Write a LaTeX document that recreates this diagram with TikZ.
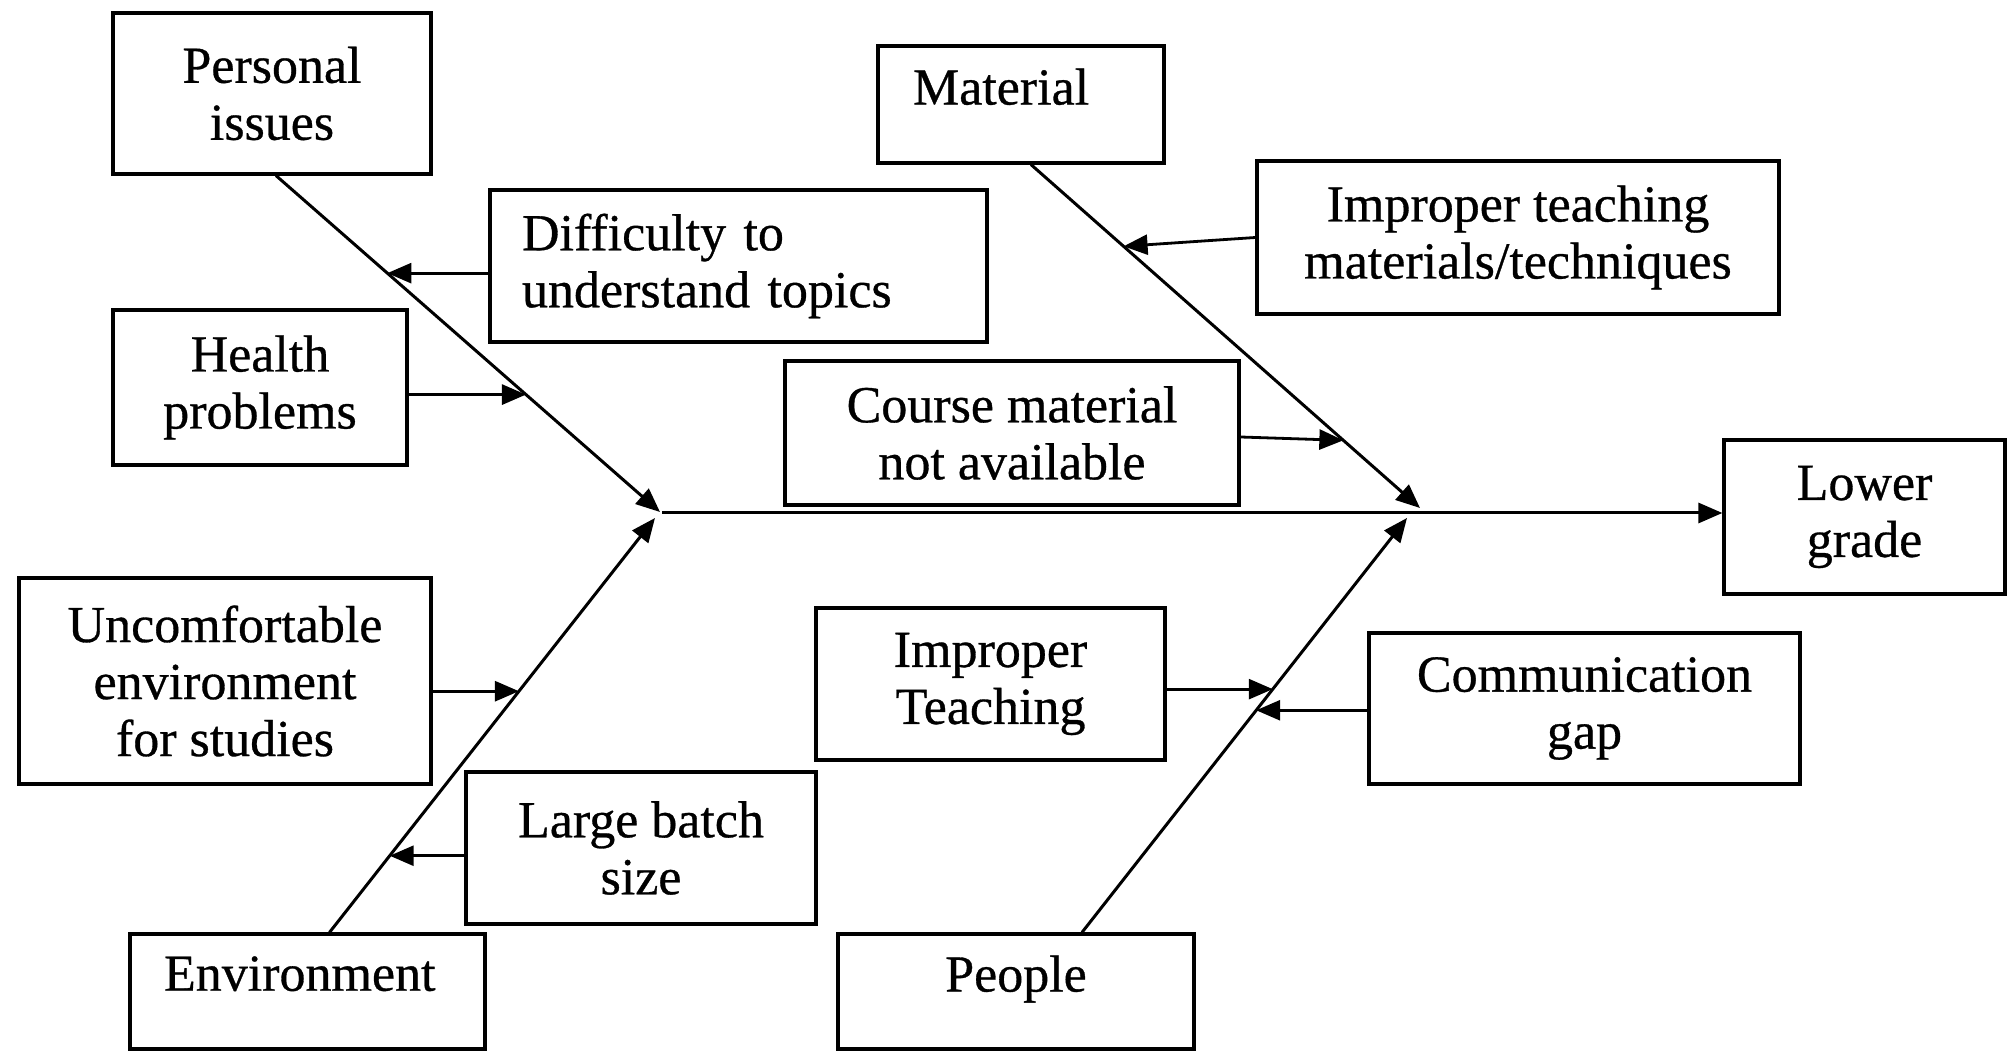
\documentclass[tikz,border=0pt]{standalone}
\usepackage{fontspec}
\setmainfont{Liberation Serif}[FakeBold=0.6]
\usetikzlibrary{arrows.meta,calc}
\begin{document}
\begin{tikzpicture}[x=0.5pt,y=-0.5pt,
  box/.style={draw, line width=1.6pt, inner sep=0pt, align=center,
              font=\fontsize{26}{28.5}\selectfont},
  oneline/.style={text depth=18pt},
  bone/.style={line width=1.5pt, -{Triangle[length=12pt,width=10pt]}},
  sub/.style={line width=1.4pt, -{Triangle[length=12pt,width=10pt]}}]
\useasboundingbox (0,0) rectangle (2010,1052);

% cause and effect boxes
\node[box, minimum width=159pt, minimum height=80.5pt] (per) at (272,93.5) {Personal\\issues};
\node[box, minimum width=248.5pt, minimum height=76pt, text width=216.5pt,
      inner xsep=16pt, align=left] (dif) at (738.5,266) {Difficulty to\\understand topics};
\node[box, minimum width=147pt, minimum height=77.5pt] (hea) at (260,387.5) {Health\\problems};
\node[box, oneline, minimum width=143pt, minimum height=58.5pt, text width=108pt,
      inner xsep=17.5pt, align=left] (mat) at (1021,104.5) {Material};
\node[box, minimum width=261pt, minimum height=76.5pt] (itm) at (1518,237.5) {Improper teaching\\materials/techniques};
\node[box, minimum width=227pt, minimum height=72pt] (cma) at (1012,433) {Course material\\not available};
\node[box, minimum width=140.5pt, minimum height=77pt] (low) at (1864.5,517) {Lower\\grade};
\node[box, minimum width=206pt, minimum height=103pt] (unc) at (225,681) {Uncomfortable\\environment\\for studies};
\node[box, minimum width=175pt, minimum height=76pt] (lbs) at (641,848) {Large batch\\size};
\node[box, oneline, minimum width=177.5pt, minimum height=57.5pt, text width=143.5pt,
      inner xsep=17pt, align=left] (env) at (307.5,991.5) {Environment};
\node[box, minimum width=174.5pt, minimum height=76pt] (imt) at (990.5,684) {Improper\\Teaching};
\node[box, oneline, minimum width=178pt, minimum height=57.5pt] (peo) at (1016,991.5) {People};
\node[box, minimum width=215.5pt, minimum height=75.5pt] (com) at (1584.5,708.5) {Communication\\gap};

% spine
\coordinate (sp) at (662,513);
\draw[bone] (sp) -- (sp -| low.west);

% main bones
\coordinate (perS) at ([xshift=2pt]per.south);
\coordinate (matS) at ([xshift=5pt]mat.south);
\coordinate (envS) at ([xshift=11pt]env.north);
\coordinate (peoS) at ([xshift=33pt]peo.north);
\coordinate (j1t) at (660,512);
\coordinate (j1b) at (655,518);
\coordinate (j2t) at (1420,508);
\coordinate (j2b) at (1407,518);
\draw[bone] (perS) -- (j1t);
\draw[bone] (envS) -- (j1b);
\draw[bone] (matS) -- (j2t);
\draw[bone] (peoS) -- (j2b);

% points where the minor causes meet their bones
\coordinate (difT) at ($(perS)!0.29!(j1t)$);
\coordinate (heaT) at ($(perS)!0.651!(j1t)$);
\coordinate (itmT) at ($(matS)!0.238!(j2t)$);
\coordinate (cmaT) at ($(matS)!0.803!(j2t)$);
\coordinate (uncT) at ($(envS)!0.582!(j1b)$);
\coordinate (lbsT) at ($(envS)!0.185!(j1b)$);
\coordinate (imtT) at ($(peoS)!0.587!(j2b)$);
\coordinate (comT) at ($(peoS)!0.536!(j2b)$);

% minor cause arrows
\draw[sub] (dif.west |- difT) -- (difT);
\draw[sub] (hea.east |- heaT) -- (heaT);
\draw[sub] (itm.west) -- (itmT);
\draw[sub] ([yshift=-2pt]cma.east) -- (cmaT);
\draw[sub] (unc.east |- uncT) -- (uncT);
\draw[sub] (lbs.west |- lbsT) -- (lbsT);
\draw[sub] (imt.east |- imtT) -- (imtT);
\draw[sub] (com.west |- comT) -- (comT);
\end{tikzpicture}
\end{document}
